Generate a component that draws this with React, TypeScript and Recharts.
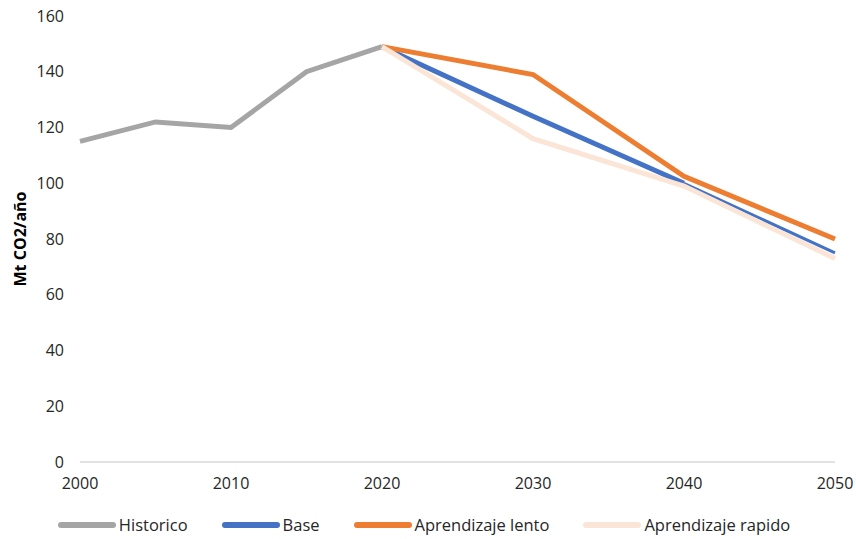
import { LineChart, Line, XAxis, YAxis, Legend } from "recharts";

// Emissions, Mt CO2 per year
const histYears = [2000, 2005, 2010, 2015, 2020];
const historico = [115, 122, 120, 140, 149];

const scenarioYears = [2020, 2030, 2040, 2050];
const base = [149, 124, 100, 75];
const aprendizajeLento = [149, 139, 102.5, 80];
const aprendizajeRapido = [149, 116, 99, 73];

const xTicks = [2000, 2010, 2020, 2030, 2040, 2050];
const yTicks = [0, 20, 40, 60, 80, 100, 120, 140, 160];

const COLORS = {
  historico: "#A5A5A5",
  base: "#4472C4",
  lento: "#ED7D31",
  rapido: "#FBE5D6",
};

const FONT = "'Open Sans', sans-serif";

type Row = Record<string, number | null>;

// merge both year lists into one table; base is split so the last leg draws thinner
function buildRows(): Row[] {
  const years = Array.from(new Set([...histYears, ...scenarioYears])).sort((a, b) => a - b);
  return years.map((year) => {
    const hi = histYears.indexOf(year);
    const si = scenarioYears.indexOf(year);
    const last = scenarioYears.length - 1;
    return {
      year,
      historico: hi >= 0 ? historico[hi] : null,
      base: si >= 0 && si < last ? base[si] : null,
      baseTail: si >= last - 1 ? base[si] : null,
      lento: si >= 0 ? aprendizajeLento[si] : null,
      rapido: si >= 0 ? aprendizajeRapido[si] : null,
    };
  });
}

const LEGEND = [
  { name: "Historico", color: COLORS.historico },
  { name: "Base", color: COLORS.base },
  { name: "Aprendizaje lento", color: COLORS.lento },
  { name: "Aprendizaje rapido", color: COLORS.rapido },
];

function LegendContent() {
  return (
    <div
      style={{
        display: "flex",
        justifyContent: "center",
        gap: 33,
        paddingLeft: 12,
        fontFamily: FONT,
        fontSize: 16.5,
        lineHeight: "20px",
        color: "#262626",
      }}
    >
      {LEGEND.map((item) => (
        <div key={item.name} style={{ display: "flex", alignItems: "center" }}>
          <svg width={60} height={8} style={{ marginRight: 2 }}>
            <line x1={4} y1={4} x2={56} y2={4} stroke={item.color} strokeWidth={6} strokeLinecap="round" />
          </svg>
          <span>{item.name}</span>
        </div>
      ))}
    </div>
  );
}

export default function App() {
  const data = buildRows();
  return (
    <div style={{ width: 856, height: 539, background: "#fff" }}>
      <style>{`body{margin:0}`}</style>
      <LineChart width={856} height={539} data={data} margin={{ top: 16, right: 21, left: 0, bottom: 27 }}>
        <XAxis
          dataKey="year"
          type="number"
          domain={[2000, 2050]}
          ticks={xTicks}
          tickLine={false}
          axisLine={{ stroke: "#D9D9D9", strokeWidth: 1.5 }}
          tick={{ fontSize: 16, fill: "#262626", fontFamily: FONT }}
          tickSize={0}
          tickMargin={16}
          height={30}
          interval={0}
        />
        <YAxis
          type="number"
          domain={[0, 160]}
          ticks={yTicks}
          width={80}
          axisLine={false}
          tickLine={false}
          tickSize={0}
          tickMargin={16}
          tick={{ fontSize: 16, fill: "#262626", fontFamily: FONT }}
          label={{
            value: "Mt CO2/año",
            angle: -90,
            position: "insideLeft",
            offset: 20,
            style: { textAnchor: "middle", fontSize: 16, fontWeight: 700, fill: "#000", fontFamily: FONT },
          }}
        />
        <Legend verticalAlign="bottom" content={() => <LegendContent />} wrapperStyle={{ bottom: 4 }} />
        <Line dataKey="historico" stroke={COLORS.historico} strokeWidth={5} dot={false} isAnimationActive={false} />
        <Line dataKey="base" stroke={COLORS.base} strokeWidth={5} dot={false} isAnimationActive={false} />
        <Line dataKey="baseTail" stroke={COLORS.base} strokeWidth={3} dot={false} isAnimationActive={false} legendType="none" />
        <Line dataKey="lento" stroke={COLORS.lento} strokeWidth={5} dot={false} isAnimationActive={false} />
        <Line dataKey="rapido" stroke={COLORS.rapido} strokeWidth={5} dot={false} isAnimationActive={false} />
      </LineChart>
    </div>
  );
}
